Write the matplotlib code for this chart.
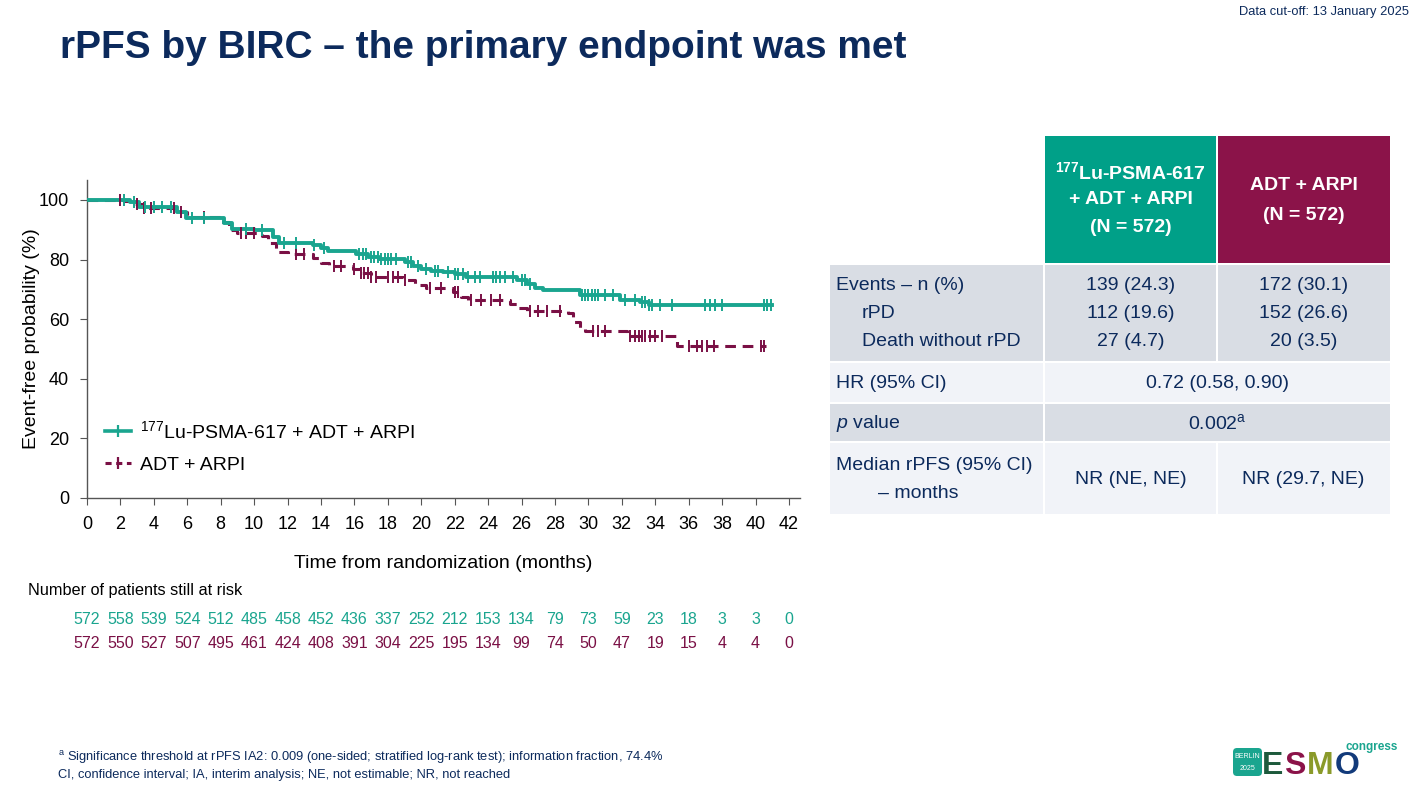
import numpy as np
import matplotlib
matplotlib.use("Agg")
import matplotlib.pyplot as plt
from matplotlib.lines import Line2D
from matplotlib.patches import Rectangle, FancyBboxPatch
from matplotlib.transforms import blended_transform_factory

base = 'Liberation Sans'
plt.rcParams['font.family'] = [base, 'DejaVu Sans']
plt.rcParams['mathtext.fontset'] = 'custom'
plt.rcParams['mathtext.rm'] = base
plt.rcParams['mathtext.it'] = base + ':italic'
plt.rcParams['mathtext.bf'] = base + ':bold'

navy = '#0c2a5c'
teal = '#1aa58f'
maroon = '#7a1045'
head_teal = '#00a088'
head_mag = '#8b1349'
gray_row = '#d9dde4'
light_row = '#f1f3f8'

# ---- KM curve data (step times, survival %) ----
lu_t = [0, 2.6, 3.1, 5.4, 5.9, 8.2, 8.7, 10.0, 11.1, 11.5, 13.5, 14.0, 14.4, 16.1, 16.8, 17.5,
        19.0, 19.5, 20.0, 20.6, 21.3, 22.0, 22.7, 25.7, 26.3, 26.8, 27.3, 29.5, 31.9, 33.1, 33.6]
lu_s = [100, 99.3, 97.5, 96.0, 94.0, 92.3, 90.2, 89.8, 87.5, 85.6, 85.0, 83.8, 82.8, 82.0, 81.0, 80.2,
        79.3, 78.0, 77.0, 76.2, 75.7, 75.0, 74.2, 73.2, 71.8, 70.5, 69.7, 68.2, 66.6, 65.8, 64.9]
lu_end = 41.0
lu_cens = [2.2, 2.8, 3.5, 4.0, 4.5, 5.0, 6.3, 7.0, 9.5, 10.5, 11.8, 12.5, 13.6, 14.2, 16.3, 16.5,
           16.7, 17.0, 17.2, 17.4, 17.6, 17.8, 18.0, 18.2, 18.5, 19.2, 19.4, 19.8, 20.3, 20.8, 21.0,
           21.6, 22.0, 22.2, 22.5, 22.8, 23.2, 23.5, 24.3, 24.5, 24.7, 25.0, 25.5, 26.0, 26.2, 26.5,
           29.6, 29.8, 30.0, 30.2, 30.4, 30.6, 31.0, 31.5, 32.2, 32.8, 33.2, 33.4, 33.6, 33.8, 34.3,
           35.0, 37.0, 37.3, 37.6, 38.0, 40.5, 40.7, 40.9]

adt_t = [0, 2.3, 2.8, 3.3, 5.5, 6.0, 8.0, 8.5, 9.0, 10.5, 10.8, 11.3, 12.0, 13.5, 14.0, 14.5,
         15.9, 16.4, 17.0, 18.9, 19.6, 20.3, 21.9, 22.4, 22.8, 25.3, 25.8, 26.3, 28.8, 29.1, 29.5,
         29.8, 32.3, 35.3]
adt_s = [100, 99.5, 98.5, 97.3, 96.0, 94.3, 92.5, 90.0, 89.0, 88.0, 85.5, 82.7, 82.0, 80.5, 79.0, 77.8,
         76.8, 75.5, 74.0, 73.0, 71.5, 70.6, 69.0, 67.5, 66.5, 65.0, 63.8, 62.6, 62.0, 59.0, 57.0,
         55.9, 54.5, 51.0]
adt_end = 40.6
adt_cens = [2.0, 3.0, 3.4, 3.8, 5.2, 5.6, 7.0, 9.2, 9.5, 10.0, 12.5, 13.0, 14.8, 15.2, 16.0, 16.4,
            16.6, 16.8, 17.0, 17.3, 18.0, 18.3, 18.6, 19.0, 20.5, 21.2, 22.0, 22.2, 23.0, 23.6,
            24.2, 24.7, 26.5, 27.0, 27.5, 28.3, 30.3, 30.6, 31.0, 32.5, 32.8, 33.0, 33.2, 33.4,
            33.7, 34.0, 34.4, 36.0, 36.5, 36.8, 37.1, 37.5, 40.3, 40.5]

risk_times = list(range(0, 43, 2))
risk_lu = [572, 558, 539, 524, 512, 485, 458, 452, 436, 337, 252, 212, 153, 134, 79, 73, 59, 23, 18, 3, 3, 0]
risk_adt = [572, 550, 527, 507, 495, 461, 424, 408, 391, 304, 225, 195, 134, 99, 74, 50, 47, 19, 15, 4, 4, 0]

W, H = 1414, 791
fig = plt.figure(figsize=(W / 100, H / 100), dpi=100)
fig.patch.set_facecolor('white')


def fx(x):
    return x / W


def fy(y):
    return 1 - y / H


ax = fig.add_axes([fx(87), fy(498), fx(800) - fx(87), fy(180) - fy(498)])


def km(ax, t, s, tend, cens, color, ls, lw):
    tt = list(t) + [tend]
    ss = list(s) + [s[-1]]
    ax.plot(tt, ss, drawstyle='steps-post', color=color, ls=ls, lw=lw, zorder=3)
    idx = np.searchsorted(t, cens, side='right') - 1
    ax.plot(cens, np.array(s)[idx], ls='none', marker='|', ms=8, mew=1.4, color=color, zorder=4)


km(ax, adt_t, adt_s, adt_end, adt_cens, maroon, (0, (3.5, 2.2)), 2.2)
km(ax, lu_t, lu_s, lu_end, lu_cens, teal, '-', 2.8)

ax.set_xlim(0, 42.66)
ax.set_ylim(0, 106.7)
ax.set_xticks(risk_times)
ax.set_yticks([0, 20, 40, 60, 80, 100])
for sp in ['top', 'right']:
    ax.spines[sp].set_visible(False)
for sp in ['left', 'bottom']:
    ax.spines[sp].set_color('#555555')
    ax.spines[sp].set_linewidth(1.0)
ax.tick_params(length=5, color='#555555', labelsize=13, pad=8, labelcolor='black')
ax.set_xlabel('Time from randomization (months)', fontsize=14, labelpad=16)
ax.set_ylabel('Event-free probability (%)', fontsize=14)
ax.yaxis.set_label_coords(-0.066, 0.5)

handles = [Line2D([], [], color=teal, lw=2.6, marker='|', ms=9, mew=1.6),
           Line2D([], [], color=maroon, lw=2.2, ls=(0, (2, 1.5)), marker='|', ms=9, mew=1.6)]
ax.legend(handles, ['$^{177}$Lu-PSMA-617 + ADT + ARPI', 'ADT + ARPI'], loc='lower left',
          bbox_to_anchor=(0.0, 0.02), frameon=False, fontsize=14, handlelength=1.35,
          handletextpad=0.45, labelspacing=0.75)

# risk table
tr = blended_transform_factory(ax.transData, fig.transFigure)
fig.text(fx(28), fy(590), 'Number of patients still at risk', fontsize=11.7, va='center', ha='left')
for t, a, b in zip(risk_times, risk_lu, risk_adt):
    ax.text(t, fy(619), str(a), transform=tr, ha='center', va='center', fontsize=11.5, color=teal, clip_on=False)
    ax.text(t, fy(643), str(b), transform=tr, ha='center', va='center', fontsize=11.5, color=maroon, clip_on=False)

# title etc
fig.text(fx(60), fy(48), 'rPFS by BIRC – the primary endpoint was met', fontsize=28, fontweight='bold',
         color=navy, va='center', ha='left')
fig.text(fx(1409), fy(12), 'Data cut-off: 13 January 2025', fontsize=9.3, color=navy, va='center', ha='right')
fig.text(fx(58), fy(757), r'$^{\mathrm{a}}$ Significance threshold at rPFS IA2: 0.009 (one-sided; stratified log-rank test); '
         'information fraction, 74.4%', fontsize=9.3, color=navy, va='center', ha='left')
fig.text(fx(58), fy(775), 'CI, confidence interval; IA, interim analysis; NE, not estimable; NR, not reached',
         fontsize=9.3, color=navy, va='center', ha='left')

# summary table in pixel coordinates
tb = fig.add_axes([0, 0, 1, 1], zorder=-1)
tb.set_xlim(0, W)
tb.set_ylim(H, 0)
tb.axis('off')


def cell(x0, x1, y0, y1, c):
    tb.add_patch(Rectangle((x0, y0), x1 - x0, y1 - y0, facecolor=c, edgecolor='none'))


c1, c2, c3, c4 = 830, 1044, 1217, 1390
cell(c2 + 1, c3 - 1, 136, 263, head_teal)
cell(c3 + 1, c4, 136, 263, head_mag)
cell(c1, c2 - 1, 265, 361, gray_row)
cell(c2 + 1, c3 - 1, 265, 361, gray_row)
cell(c3 + 1, c4, 265, 361, gray_row)
cell(c1, c2 - 1, 363, 402, light_row)
cell(c2 + 1, c4, 363, 402, light_row)
cell(c1, c2 - 1, 404, 441, gray_row)
cell(c2 + 1, c4, 404, 441, gray_row)
cell(c1, c2 - 1, 443, 514, light_row)
cell(c2 + 1, c3 - 1, 443, 514, light_row)
cell(c3 + 1, c4, 443, 514, light_row)

m2, m3, m23 = (c2 + c3) / 2, (c3 + c4) / 2, (c2 + c4) / 2
hk = dict(color='white', fontsize=14, fontweight='bold', ha='center', va='center')
tb.text(m2, 172, r'$^{\mathbf{177}}$Lu-PSMA-617', **hk)
tb.text(m2, 200, '+ ADT + ARPI', **hk)
tb.text(m2, 228, '(N = 572)', **hk)
tb.text(m3, 186, 'ADT + ARPI', **hk)
tb.text(m3, 215, '(N = 572)', **hk)

tk = dict(color=navy, fontsize=14, va='center')
tb.text(836, 286, 'Events – n (%)', ha='left', **tk)
tb.text(862, 314, 'rPD', ha='left', **tk)
tb.text(862, 342, 'Death without rPD', ha='left', **tk)
tb.text(m2, 286, '139 (24.3)', ha='center', **tk)
tb.text(m2, 314, '112 (19.6)', ha='center', **tk)
tb.text(m2, 342, '27 (4.7)', ha='center', **tk)
tb.text(m3, 286, '172 (30.1)', ha='center', **tk)
tb.text(m3, 314, '152 (26.6)', ha='center', **tk)
tb.text(m3, 342, '20 (3.5)', ha='center', **tk)
tb.text(836, 383, 'HR (95% CI)', ha='left', **tk)
tb.text(m23, 383, '0.72 (0.58, 0.90)', ha='center', **tk)
tb.text(836, 423, '$p$ value', ha='left', **tk)
tb.text(m23, 423, r'0.002$^{\mathrm{a}}$', ha='center', **tk)
tb.text(836, 465, 'Median rPFS (95% CI)', ha='left', **tk)
tb.text(878, 493, '– months', ha='left', **tk)
tb.text(m2, 480, 'NR (NE, NE)', ha='center', **tk)
tb.text(m3, 480, 'NR (29.7, NE)', ha='center', **tk)

# congress logo (approximate)
tb.add_patch(FancyBboxPatch((1233, 748), 29, 28, boxstyle='round,pad=0,rounding_size=4',
                            facecolor='#1aa58f', edgecolor='none'))
tb.text(1247.5, 756, 'BERLIN', color='white', fontsize=5, ha='center', va='center')
tb.text(1247.5, 768, '2025', color='white', fontsize=5, ha='center', va='center')
for ch, x, c in [('E', 1273, '#1d5a3c'), ('S', 1295, '#8b1349'), ('M', 1320, '#8a9a2a'), ('O', 1347, '#123a7a')]:
    tb.text(x, 766, ch, color=c, fontsize=23, fontweight='bold', ha='center', va='center')
tb.text(1372, 747, 'congress', color='#1aa58f', fontsize=8.5, fontweight='bold', ha='center', va='center')

fig.savefig('out.png', dpi=100)
